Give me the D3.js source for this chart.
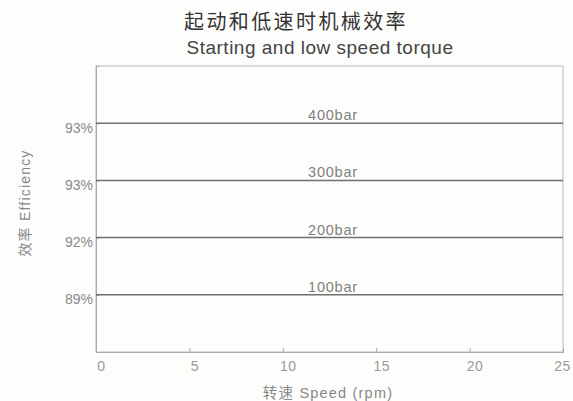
<!DOCTYPE html>
<html><head><meta charset="utf-8">
<script src="https://cdn.jsdelivr.net/npm/d3@7"></script>
<style>
body{margin:0;background:#fdfdfb;}
text{font-family:"Liberation Sans","Noto Sans CJK SC",sans-serif;}
</style></head>
<body><svg id="c" width="573" height="401"></svg>
<script>
const series = ["400bar","300bar","200bar","100bar"];
const efficiencyLabels = ["93%","93%","92%","89%"];
const speedStart = [0,0,0,0];
const speedEnd = [25,25,25,25];
const xTicks = [0,5,10,15,20,25];

const svg = d3.select("#c");
const m = {l:96, r:563, t:66, b:352};
const x = d3.scaleLinear().domain([0,25]).range([m.l,m.r]);
const y = d3.scalePoint().domain(series).range([m.t,m.b]).padding(1);

// frame
svg.append("rect").attr("x",m.l).attr("y",m.t).attr("width",m.r-m.l).attr("height",m.b-m.t)
  .attr("fill","none").attr("stroke","#c4c4c4").attr("stroke-width",1.2);

// x axis
const xa = svg.append("g").attr("transform",`translate(0,${m.b})`)
  .call(d3.axisBottom(x).tickValues(xTicks).tickSize(-4).tickPadding(9));
xa.select(".domain").attr("stroke","#aaa");
xa.selectAll(".tick line").attr("stroke","#aaa");
xa.selectAll(".tick text").attr("fill","#999").attr("font-size",14).attr("letter-spacing",0.5)
  .attr("dx",(d,i)=> i===xTicks.length-1 ? -1 : 5);

// y axis
const ya = svg.append("g").attr("transform",`translate(${m.l},0)`)
  .call(d3.axisLeft(y).tickSize(-3).tickPadding(3).tickFormat((d,i)=>efficiencyLabels[i]));
ya.select(".domain").attr("stroke","#aaa");
ya.selectAll(".tick line").attr("stroke","#999");
ya.selectAll(".tick text").attr("fill","#8a8a8a").attr("font-size",14).attr("dy","0.65em");

// lines
const data = series.map((s,i)=>({s, x0:speedStart[i], x1:speedEnd[i]}));
svg.selectAll("line.s").data(data).join("line").attr("class","s")
  .attr("x1",d=>x(d.x0)).attr("x2",d=>x(d.x1))
  .attr("y1",d=>y(d.s)).attr("y2",d=>y(d.s))
  .attr("stroke","#707070").attr("stroke-width",1.5);
svg.selectAll("text.s").data(data).join("text").attr("class","s")
  .attr("x",333).attr("y",d=>y(d.s)-3).attr("text-anchor","middle")
  .attr("fill","#808080").attr("font-size",14.5).attr("letter-spacing",0.8).text(d=>d.s);

// titles
svg.append("text").attr("x",296).attr("y",29).attr("text-anchor","middle")
  .attr("font-size",20).attr("letter-spacing",2.4).attr("fill","#333").text("起动和低速时机械效率");
svg.append("text").attr("x",320).attr("y",54).attr("text-anchor","middle")
  .attr("font-size",19).attr("letter-spacing",0.5).attr("fill","#444").text("Starting and low speed torque");
svg.append("text").attr("x",328).attr("y",398).attr("text-anchor","middle")
  .attr("font-size",14.5).attr("letter-spacing",1.2).attr("fill","#888").text("转速 Speed (rpm)");
svg.append("text").attr("transform","translate(30,203) rotate(-90)").attr("text-anchor","middle")
  .attr("font-size",14).attr("letter-spacing",1.2).attr("fill","#888").text("效率 Efficiency");
</script></body></html>
